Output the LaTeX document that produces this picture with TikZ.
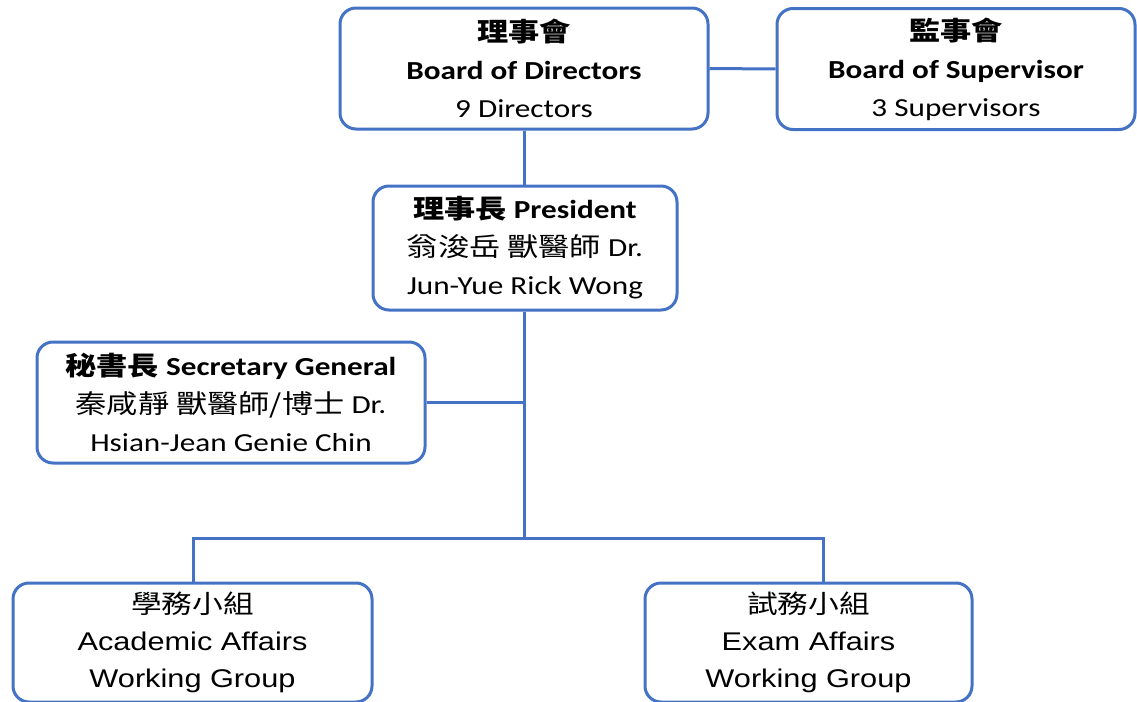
\documentclass[tikz,border=0pt]{standalone}
\usepackage{fontspec}
% the lettering is drawn wider than normal
\setmainfont{Carlito}[FakeStretch=1.2]
\newfontfamily\cjk{Noto Sans CJK TC}[FakeStretch=1.2]
\newfontfamily\grpfont{Liberation Sans}[FakeStretch=1.2]
\definecolor{boxblue}{HTML}{4472C4}

\tikzset{
  unit/.style={draw=boxblue, line width=1.5pt, rounded corners=8pt, fill=white,
    align=center, inner sep=0pt, font=\fontsize{13pt}{19pt}\selectfont},
  group/.style={unit, font=\grpfont\fontsize{12.8pt}{18.5pt}\selectfont},
  link/.style={draw=boxblue, line width=1.5pt}
}

\begin{document}
\begin{tikzpicture}[x=0.5pt, y=-0.5pt]
\useasboundingbox (0,0) rectangle (1137,702);

% top level
\node[unit, minimum width=184pt, minimum height=60.5pt] (board) at (524,68.5)
  {{\cjk\bfseries 理事會}\\ \textbf{Board of Directors}\\ 9 Directors};
\node[unit, minimum width=179pt, minimum height=60.5pt] (super) at (956,69)
  {{\cjk\bfseries 監事會}\\ \textbf{Board of Supervisor}\\ 3 Supervisors};

% officers
\node[unit, minimum width=152pt, minimum height=62pt] (pres) at (525,248)
  {{\cjk\bfseries 理事長} \textbf{President}\\ {\cjk 翁浚岳 獸醫師} Dr.\\ Jun-Yue Rick Wong};
\node[unit, minimum width=194pt, minimum height=60.5pt] (sec) at (231,402.5)
  {{\cjk\bfseries 秘書長} \textbf{Secretary General}\\ {\cjk 秦咸靜 獸醫師/博士} Dr.\\ Hsian-Jean Genie Chin};

% working groups
\node[group, minimum width=179.5pt, minimum height=59.5pt] (acad) at (192.5,642.5)
  {{\cjk 學務小組}\\ Academic Affairs\\ Working Group};
\node[group, minimum width=163.5pt, minimum height=59.5pt] (exam) at (808.5,642.5)
  {{\cjk 試務小組}\\ Exam Affairs\\ Working Group};

\coordinate (hub) at (524,538);
\coordinate (forkL) at (193,538);
\coordinate (forkR) at (823,538);

\draw[link] (board.east) -- (super.west);
\draw[link] (board.south -| hub) -- (pres.north -| hub);
\draw[link] (pres.south -| hub) -- (hub);
\draw[link] (sec.east) -- (sec.east -| hub);
\draw[link] (forkL |- acad.north) -- (forkL) -- (forkR) -- (forkR |- exam.north);
\end{tikzpicture}
\end{document}
